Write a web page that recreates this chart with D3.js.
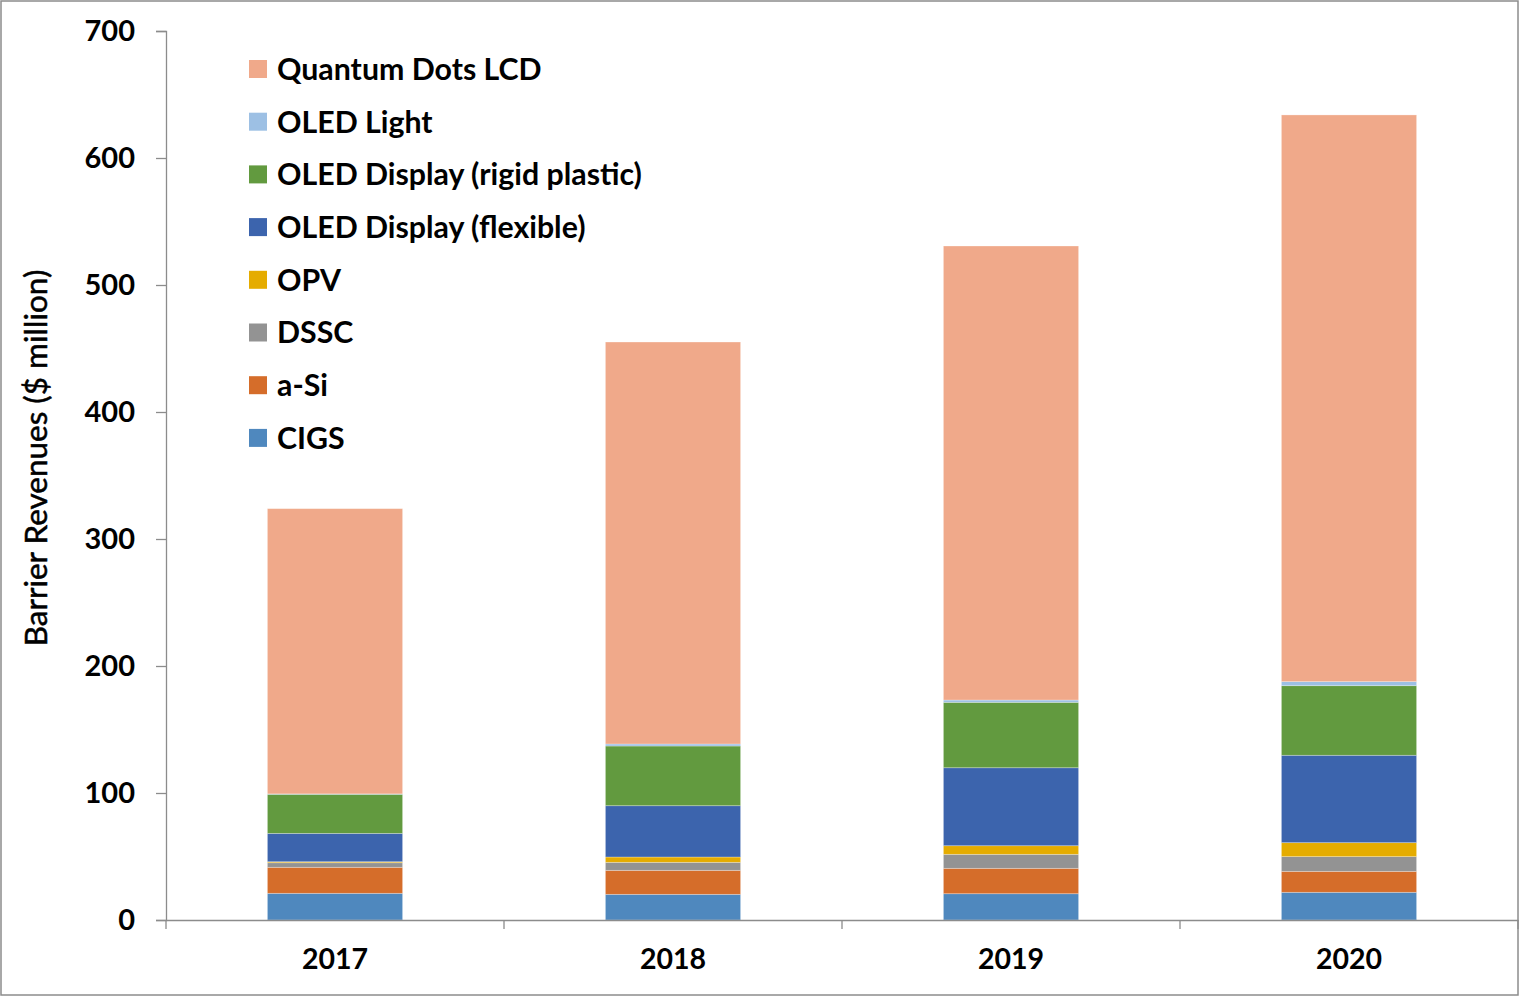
<!DOCTYPE html>
<html>
<head>
<meta charset="utf-8">
<script src="https://cdn.jsdelivr.net/npm/d3@7"></script>
<style>
  body { margin: 0; background: #fff; }
  text { font-family: Lato, "Open Sans", sans-serif; }
</style>
</head>
<body>
<div id="chart"></div>
<script>
// data ($ million)
const years = ["2017", "2018", "2019", "2020"];
const series = ["CIGS", "a-Si", "DSSC", "OPV", "OLED Display (flexible)", "OLED Display (rigid plastic)", "OLED Light", "Quantum Dots LCD"];
const cigs     = [21.0, 20.2, 20.7, 21.8];
const aSi      = [20.5, 18.9, 20.0, 16.5];
const dssc     = [3.6, 6.3, 11.0, 11.6];
const opv      = [0.8, 4.2, 6.8, 11.0];
const flexible = [22.3, 40.4, 61.4, 68.8];
const rigid    = [30.8, 47.0, 51.5, 54.8];
const oledLight = [0.3, 1.6, 1.8, 3.2];
const qdLcd    = [224.6, 316.5, 357.5, 446.2];
const yTicks = [0, 100, 200, 300, 400, 500, 600, 700];

const colors = ["#4f88be", "#d56d2a", "#939393", "#e5ac00", "#3c64ad", "#629a3f", "#9dc0e4", "#f0a98a"];
const values = [cigs, aSi, dssc, opv, flexible, rigid, oledLight, qdLcd];

const W = 1526, H = 997;
const margin = {top: 31, right: 8, bottom: 77, left: 166};
const width = 1518 - margin.left, height = 920 - margin.top;

const table = years.map(function(y, i) {
  const row = {year: y};
  series.forEach(function(s, k) { row[s] = values[k][i]; });
  return row;
});

const stacked = d3.stack().keys(series)(table);

const svg = d3.select("#chart").append("svg")
  .attr("width", W)
  .attr("height", H);

// outer frame
svg.append("rect")
  .attr("x", 1).attr("y", 1)
  .attr("width", 1517).attr("height", 994)
  .attr("fill", "none")
  .attr("stroke", "#8c8c8c")
  .attr("stroke-width", 1.5);

const g = svg.append("g")
  .attr("transform", "translate(" + margin.left + "," + margin.top + ")");

const x = d3.scaleBand()
  .domain(years)
  .range([0, width])
  .paddingInner(0.6)
  .paddingOuter(0.3);

const y = d3.scaleLinear()
  .domain([0, 700])
  .range([height, 0]);

// bars
g.selectAll("g.layer")
  .data(stacked)
  .enter()
  .append("g")
  .attr("class", "layer")
  .attr("fill", function(d, i) { return colors[i]; })
  .selectAll("rect")
  .data(function(d) { return d; })
  .enter()
  .append("rect")
  .attr("x", function(d) { return x(d.data.year); })
  .attr("y", function(d) { return y(d[1]); })
  .attr("width", x.bandwidth())
  .attr("height", function(d) { return y(d[0]) - y(d[1]); })
  .attr("stroke", "#ffffff")
  .attr("stroke-opacity", 0.35)
  .attr("stroke-width", 0.8);

// y axis
const yAxis = g.append("g")
  .call(d3.axisLeft(y).tickValues(yTicks).tickSize(10).tickPadding(21));
yAxis.select(".domain").attr("stroke", "#8c8c8c").attr("stroke-width", 1.3);
yAxis.selectAll(".tick line").attr("stroke", "#8c8c8c").attr("stroke-width", 1.3);
yAxis.selectAll(".tick text")
  .attr("font-family", "Lato, 'Open Sans', sans-serif")
  .attr("font-size", 29)
  .attr("font-weight", "bold")
  .attr("fill", "#000");

// x axis: line plus category boundary ticks
const xAxis = g.append("g")
  .attr("transform", "translate(0," + height + ")")
  .call(d3.axisBottom(x).tickSize(0).tickPadding(29));
xAxis.select(".domain").attr("stroke", "#8c8c8c").attr("stroke-width", 1.3);
xAxis.selectAll(".tick text")
  .attr("font-family", "Lato, 'Open Sans', sans-serif")
  .attr("font-size", 28.5)
  .attr("font-weight", "bold")
  .attr("fill", "#000");

const bounds = d3.range(years.length + 1).map(function(i) { return i * width / years.length; });
xAxis.selectAll("line.bound")
  .data(bounds)
  .enter()
  .append("line")
  .attr("class", "bound")
  .attr("x1", function(d) { return d; })
  .attr("x2", function(d) { return d; })
  .attr("y1", 0)
  .attr("y2", 9)
  .attr("stroke", "#8c8c8c")
  .attr("stroke-width", 1.3);

// y axis title
svg.append("text")
  .attr("transform", "translate(47,458) rotate(-90)")
  .attr("text-anchor", "middle")
  .attr("font-size", 31.5)
  .attr("font-weight", "normal")
  .attr("fill", "#000")
  .attr("stroke", "#000")
  .attr("stroke-width", 0.5)
  .text("Barrier Revenues ($ million)");

// legend, top to bottom in reverse stack order
const legendItems = series.slice().reverse();
const legend = svg.append("g").attr("transform", "translate(249,69)");
const row = legend.selectAll("g")
  .data(legendItems)
  .enter()
  .append("g")
  .attr("transform", function(d, i) { return "translate(0," + (i * 52.7) + ")"; });
row.append("rect")
  .attr("x", 0).attr("y", -9)
  .attr("width", 18).attr("height", 18)
  .attr("fill", function(d) { return colors[series.indexOf(d)]; });
row.append("text")
  .attr("x", 28)
  .attr("y", 0)
  .attr("dy", "0.36em")
  .attr("font-size", 30.3)
  .attr("font-weight", "bold")
  .attr("fill", "#000")
  .text(function(d) { return d; });
</script>
</body>
</html>
